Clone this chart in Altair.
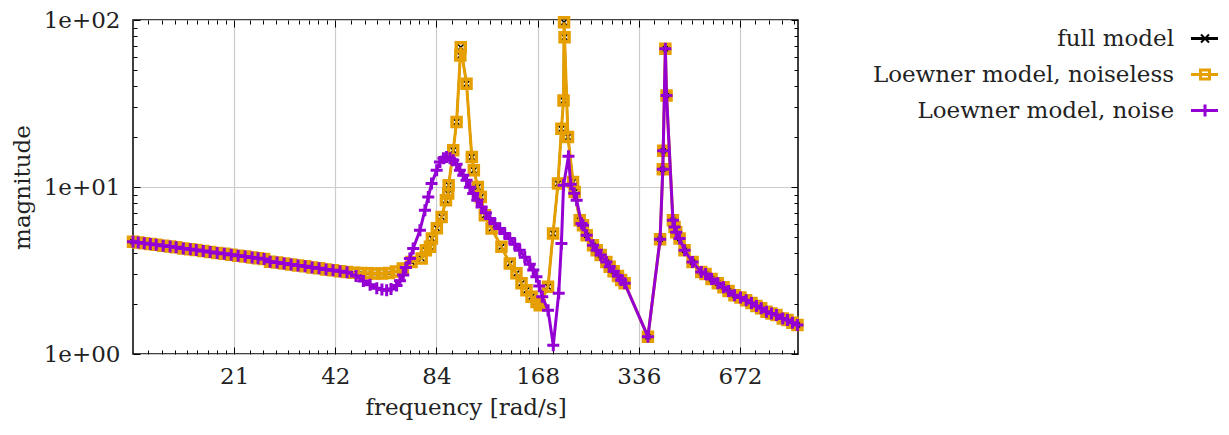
import altair as alt
import pandas as pd

FONT = "DejaVu Serif"
FS = 23
ORANGE = "#E69F00"
PURPLE = "#9400D3"

# ---------------- data ----------------
# full model and noiseless Loewner model coincide in the picture
freq_model = [
    10.5, 10.88, 11.34, 11.82, 12.31, 12.91, 13.54, 14.11, 14.82, 15.55,
    16.2, 16.99, 17.81, 18.69, 19.62, 20.58, 21.58, 22.64, 23.75, 24.74,
    25.78, 26.87, 28.18, 29.57, 31.02, 32.53, 34.14, 35.81, 37.57, 39.41,
    41.34, 43.37, 45.5, 47.7, 50.1, 52.5, 55.1, 57.8, 60.6, 63.6,
    66.7, 70.8, 75.9, 78.1, 80.3, 81.4, 84.2, 87.0, 89.6, 91.0,
    91.3, 94.2, 96.4, 98.9, 99.2, 103.2, 107.0, 108.5, 111.5, 113.8,
    117.0, 122.5, 131.1, 138.8, 145.3, 150.4, 155.6, 161.1, 166.7, 170.4,
    180.4, 186.7, 193.1, 197.7, 200.6, 201.3, 202.0, 206.8, 214.1, 216.5,
    224.1, 229.2, 235.1, 245.5, 251.7, 258.7, 269.0, 275.2, 282.7, 291.2,
    297.7, 304.9, 357.6, 388.7, 396.0, 397.1, 403.0, 406.3, 424.4, 429.2,
    434.2, 444.2, 459.6, 485.5, 515.3, 530.7, 553.0, 577.3, 600.2, 621.4,
    647.2, 674.3, 701.0, 727.0, 752.2, 776.8, 805.8, 833.7, 862.7, 900.7,
    930.1, 962.4, 996.2,
]
mag_full = [
    4.70, 4.66, 4.61, 4.56, 4.51, 4.45, 4.40, 4.35, 4.29, 4.24,
    4.19, 4.14, 4.08, 4.03, 3.98, 3.93, 3.88, 3.83, 3.78, 3.74,
    3.70, 3.57, 3.53, 3.48, 3.44, 3.39, 3.35, 3.30, 3.26, 3.21,
    3.17, 3.13, 3.10, 3.07, 3.05, 3.04, 3.03, 3.03, 3.05, 3.12,
    3.25, 3.56, 3.73, 4.18, 4.38, 4.92, 5.66, 6.62, 8.33, 9.13,
    10.24, 16.6, 24.5, 61.3, 68.7, 41.5, 15.1, 12.6, 10.0, 8.71,
    6.77, 5.64, 4.38, 3.48, 3.04, 2.65, 2.41, 2.20, 2.05, 1.96,
    2.53, 5.27, 10.48, 22.3, 33.0, 96.9, 78.8, 19.9, 10.71, 9.34,
    6.32, 5.90, 5.14, 4.48, 4.18, 3.91, 3.56, 3.33, 3.13, 2.93,
    2.77, 2.65, 1.27, 4.87, 12.76, 16.46, 67.2, 35.3, 6.32, 5.77,
    5.36, 4.92, 4.18, 3.55, 3.10, 3.01, 2.81, 2.65, 2.51, 2.38,
    2.25, 2.18, 2.10, 2.02, 1.94, 1.88, 1.79, 1.75, 1.71, 1.63,
    1.60, 1.54, 1.49,
]
mag_noiseless = mag_full

freq_noise = [
    10.5, 10.88, 11.34, 11.82, 12.31, 12.91, 13.54, 14.11, 14.82, 15.55,
    16.2, 16.99, 17.81, 18.69, 19.62, 20.58, 21.58, 22.64, 23.75, 24.74,
    25.78, 26.87, 28.18, 29.57, 31.02, 32.53, 34.14, 35.81, 37.57, 39.41,
    41.34, 43.37, 45.5, 48.4, 50.9, 53.3, 55.8, 57.8, 59.7, 61.5,
    63.9, 65.4, 66.9, 68.1, 70.0, 71.6, 75.0, 77.6, 79.4, 81.2,
    84.1, 86.0, 88.1, 90.0, 92.1, 94.2, 96.4, 98.6, 100.9, 103.2,
    105.6, 108.0, 111.1, 114.4, 117.8, 121.1, 125.3, 129.6, 134.1, 138.8,
    143.6, 148.6, 153.8, 159.2, 163.0, 166.6, 169.9, 173.4, 180.4, 187.0,
    194.1, 197.7, 200.6, 207.5, 210.7, 215.8, 219.5, 226.8, 229.2, 235.1,
    245.5, 251.7, 258.7, 269.0, 275.2, 282.7, 291.2, 297.7, 304.9, 357.6,
    388.7, 396.0, 397.1, 403.0, 406.3, 424.4, 429.2, 434.2, 444.2, 459.6,
    485.5, 515.3, 530.7, 553.0, 577.3, 600.2, 621.4, 647.2, 674.3, 701.0,
    727.0, 752.2, 776.8, 805.8, 833.7, 862.7, 900.7, 930.1, 962.4, 996.2,
]
mag_noise = [
    4.70, 4.66, 4.61, 4.56, 4.51, 4.45, 4.40, 4.35, 4.29, 4.24,
    4.19, 4.14, 4.08, 4.03, 3.98, 3.93, 3.88, 3.83, 3.78, 3.74,
    3.70, 3.57, 3.53, 3.48, 3.44, 3.39, 3.35, 3.30, 3.26, 3.21,
    3.17, 3.13, 3.09, 2.93, 2.74, 2.60, 2.48, 2.43, 2.41, 2.45,
    2.57, 2.75, 2.97, 3.30, 3.73, 4.28, 5.51, 7.26, 8.71, 10.48,
    12.59, 14.11, 14.85, 15.11, 14.85, 14.44, 13.67, 12.59, 11.75, 10.97,
    9.96, 9.13, 8.33, 7.60, 7.01, 6.47, 6.03, 5.64, 5.27, 4.92,
    4.54, 4.18, 3.80, 3.45, 3.18, 2.90, 2.55, 2.20, 1.83, 1.13,
    2.31, 4.59, 10.24, 15.26, 10.38, 9.17, 8.33, 6.04, 5.90, 5.14,
    4.48, 4.18, 3.91, 3.56, 3.33, 3.13, 2.93, 2.77, 2.65, 1.27,
    4.87, 12.76, 16.46, 67.2, 35.3, 6.32, 5.77, 5.36, 4.92, 4.18,
    3.55, 3.10, 3.01, 2.81, 2.65, 2.51, 2.38, 2.25, 2.18, 2.10,
    2.02, 1.94, 1.88, 1.79, 1.75, 1.71, 1.63, 1.60, 1.54, 1.49,
]

series_labels = ["full model", "Loewner model, noiseless", "Loewner model, noise"]

x_major = [21, 42, 84, 168, 336, 672]
y_major = [1, 10, 100]
x_minor = [round(a + k * a / 9, 3) for a in [10.5, 21, 42, 84, 168, 336, 672]
           for k in range(1, 9) if a + k * a / 9 < 1000]
y_minor = [d * k for d in [1, 10] for k in range(2, 10)]

df_full = pd.DataFrame({"freq": freq_model, "mag": mag_full})
df_nl = pd.DataFrame({"freq": freq_model, "mag": mag_noiseless})
df_noise = pd.DataFrame({"freq": freq_noise, "mag": mag_noise})

# ---------------- styling ----------------
X_PATH = "M-1,-1L1,1M1,-1L-1,1"
PLUS_PATH = "M-1,0L1,0M0,-1L0,1"
TXT = "#222222"

x_scale = alt.Scale(type="log", domain=[10.5, 1000])
y_scale = alt.Scale(type="log", domain=[1, 100])

x_label_axis = alt.Axis(
    orient="bottom", values=x_major, format="d", grid=True, gridColor="#cccccc",
    gridWidth=1.2, ticks=False, tickSize=0, domain=False, labelFont=FONT,
    labelFontSize=FS, labelColor=TXT, labelPadding=11, labelFlush=False,
    labelOverlap=False, title="frequency [rad/s]", titleFont=FONT,
    titleFontSize=FS, titleFontWeight="normal", titleColor=TXT, titlePadding=8,
)
y_label_axis = alt.Axis(
    orient="left", values=y_major, grid=True, gridColor="#cccccc", gridWidth=1.2,
    ticks=False, tickSize=0, domain=False, labelFont=FONT, labelFontSize=FS,
    labelColor=TXT, labelPadding=13, labelOverlap=False,
    labelExpr="datum.value == 1 ? '1e+00' : (datum.value == 10 ? '1e+01' : '1e+02')",
    title="magnitude", titleFont=FONT, titleFontSize=FS, titleFontWeight="normal",
    titleColor=TXT, titlePadding=9,
)


def tick_axis(orient, values, size):
    return alt.Axis(orient=orient, values=values, labels=False, grid=False,
                    domain=False, ticks=True, tickSize={"expr": str(-size)},
                    tickColor="black", tickWidth=1, title="")


def enc(chart, xaxis, yaxis):
    return chart.encode(
        x=alt.X("freq:Q", scale=x_scale, axis=xaxis),
        y=alt.Y("mag:Q", scale=y_scale, axis=yaxis),
    )


line_full = enc(alt.Chart(df_full).mark_line(color="black", strokeWidth=2),
                x_label_axis, y_label_axis)
pts_full = enc(alt.Chart(df_full).mark_point(shape=X_PATH, size=64, filled=False,
                                              color="black", strokeWidth=1.5, opacity=1),
               tick_axis("bottom", x_major, 7), tick_axis("left", y_major, 7))
line_nl = enc(alt.Chart(df_nl).mark_line(color=ORANGE, strokeWidth=3),
              tick_axis("bottom", x_minor, 4), tick_axis("left", y_minor, 4))
pts_nl = enc(alt.Chart(df_nl).mark_point(shape="square", size=81, filled=False,
                                          color=ORANGE, strokeWidth=3.5, opacity=1),
             tick_axis("top", x_major, 7), tick_axis("right", y_major, 7))
line_noise = enc(alt.Chart(df_noise).mark_line(color=PURPLE, strokeWidth=3),
                 tick_axis("top", x_minor, 4), tick_axis("right", y_minor, 4))
pts_noise = enc(alt.Chart(df_noise).mark_point(shape=PLUS_PATH, size=144, filled=False,
                                                color=PURPLE, strokeWidth=3, opacity=1),
                None, None)

# ---------------- legend (labels right-aligned, symbol on the right) ----------------
legend_layers = []
legend_styles = [
    ("black", X_PATH, 64, 2),
    (ORANGE, "square", 81, 3),
    (PURPLE, PLUS_PATH, 144, 3),
]
sym_y = [18.5, 54.5, 90.5]
for lab, (col, shp, sz, sw), yy in zip(series_labels, legend_styles, sym_y):
    d = pd.DataFrame({"label": [lab]})
    legend_layers.append(
        alt.Chart(d).mark_text(font=FONT, fontSize=FS, align="right",
                               baseline="alphabetic", color=TXT)
        .encode(x=alt.value(1041), y=alt.value(yy + 7.5), text="label:N"))
    legend_layers.append(
        alt.Chart(d).mark_rule(color=col, strokeWidth=3)
        .encode(x=alt.value(1058), x2=alt.value(1085), y=alt.value(yy)))
    legend_layers.append(
        alt.Chart(d).mark_point(shape=shp, size=sz, filled=False, color=col,
                                strokeWidth=sw, opacity=1)
        .encode(x=alt.value(1072), y=alt.value(yy)))

chart = (
    alt.layer(line_full, pts_full, line_nl, pts_nl, line_noise, pts_noise, *legend_layers)
    .resolve_axis(x="independent", y="independent")
    .properties(
        width=665, height=334,
        autosize=alt.AutoSizeParams(type="none"),
        padding={"left": 125, "top": 12, "right": 422, "bottom": 76},
        background="white",
    )
    .configure_view(stroke="black", strokeWidth=1.5)
)

chart.save("out.html", embed_options={"renderer": "svg", "actions": False})
